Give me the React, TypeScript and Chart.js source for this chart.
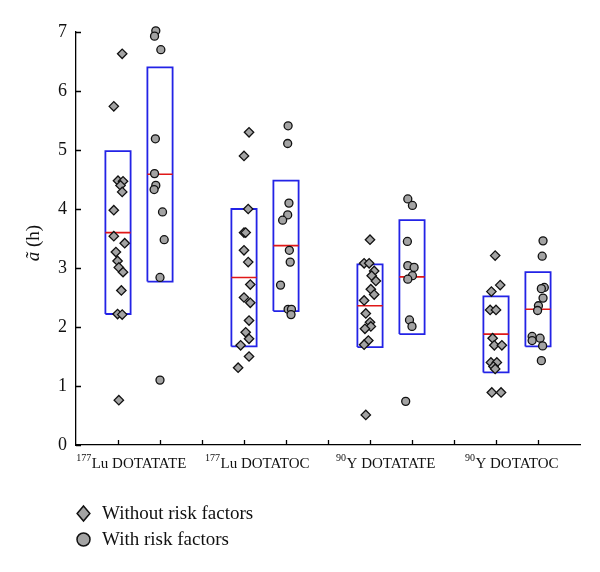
import React, { useEffect, useRef } from 'react';
import { Chart, registerables } from 'chart.js';
Chart.register(...registerables);

const categories = ['Lu DOTATATE', 'Lu DOTATOC', 'Y DOTATATE', 'Y DOTATOC'];
const isotopes = ['177', '177', '90', '90'];
const seriesNames = ['Without risk factors', 'With risk factors'];
const yTicks = [0, 1, 2, 3, 4, 5, 6, 7];

const withoutValues = [
  [6.63, 5.74, 4.48, 4.47, 4.40, 4.29, 3.98, 3.54, 3.42, 3.27, 3.12, 3.01, 2.93, 2.62, 2.22, 2.21, 0.76],
  [5.30, 4.90, 4.00, 3.60, 3.60, 3.30, 3.10, 2.72, 2.50, 2.41, 2.11, 1.91, 1.80, 1.69, 1.50, 1.31],
  [3.48, 3.08, 3.08, 2.95, 2.87, 2.78, 2.64, 2.55, 2.45, 2.23, 2.08, 2.01, 1.97, 1.77, 1.70, 0.51],
  [3.21, 2.71, 2.60, 2.29, 2.29, 1.81, 1.69, 1.69, 1.40, 1.40, 1.33, 1.29, 0.89, 0.89],
];
const withoutJitter = [
  [0.10, -0.10, 0, 0.12, 0.06, 0.10, -0.10, -0.10, 0.16, -0.05, -0.01, 0.02, 0.12, 0.08, -0.01, 0.10, 0.02],
  [0.12, 0, 0.10, 0, 0.04, 0, 0.10, 0.15, 0, 0.15, 0.12, 0.04, 0.12, -0.08, 0.12, -0.14],
  [0, -0.14, -0.02, 0.10, 0.04, 0.14, 0.02, 0.10, -0.14, -0.10, 0, 0.02, -0.12, -0.04, -0.14, -0.10],
  [-0.02, 0.10, -0.11, -0.14, 0, -0.08, -0.04, 0.14, -0.12, 0.02, -0.06, -0.02, -0.10, 0.12],
];
const withValues = [
  [7.02, 6.93, 6.70, 5.19, 4.60, 4.40, 4.33, 3.95, 3.48, 2.84, 1.10],
  [5.41, 5.11, 4.10, 3.90, 3.81, 3.30, 3.10, 2.71, 2.30, 2.30, 2.21],
  [4.17, 4.06, 3.45, 3.04, 3.01, 2.87, 2.81, 2.12, 2.01, 0.74],
  [3.46, 3.20, 2.67, 2.65, 2.49, 2.36, 2.28, 1.84, 1.81, 1.77, 1.68, 1.43],
];
const withJitter = [
  [-0.10, -0.13, 0.02, -0.11, -0.13, -0.10, -0.14, 0.06, 0.10, 0, 0],
  [0.05, 0.04, 0.07, 0.04, -0.08, 0.08, 0.10, -0.13, 0.05, 0.13, 0.12],
  [-0.10, 0.01, -0.11, -0.10, 0.05, 0.01, -0.10, -0.06, 0, -0.15],
  [0.12, 0.10, 0.15, 0.08, 0.12, 0.01, -0.01, -0.14, 0.05, -0.14, 0.11, 0.08],
];
const withoutMean = [3.60, 2.84, 2.36, 1.88];
const withoutLow = [2.22, 1.67, 1.66, 1.23];
const withoutHigh = [4.98, 4.00, 3.06, 2.52];
const withMean = [4.59, 3.38, 2.85, 2.30];
const withLow = [2.77, 2.27, 1.88, 1.67];
const withHigh = [6.40, 4.48, 3.81, 2.93];

const FONT = "'Liberation Serif', 'DejaVu Serif', serif";
const HALF = 0.3;
const posWithout = (i: number) => 3 * i + 1;
const posWith = (i: number) => 3 * i + 2;

function scatterPoints(values: number[][], jitter: number[][], pos: (i: number) => number) {
  const out: { x: number; y: number }[] = [];
  values.forEach((arr, i) => arr.forEach((v, j) => out.push({ x: pos(i) + jitter[i][j], y: v })));
  return out;
}

function boxOutlines() {
  const out: { x: number; y: number | null }[] = [];
  const add = (p: number, lo: number, hi: number) => {
    out.push({ x: p - HALF, y: lo }, { x: p + HALF, y: lo }, { x: p + HALF, y: hi }, { x: p - HALF, y: hi }, { x: p - HALF, y: lo }, { x: p, y: null });
  };
  categories.forEach((_, i) => {
    add(posWithout(i), withoutLow[i], withoutHigh[i]);
    add(posWith(i), withLow[i], withHigh[i]);
  });
  return out;
}

function medianLines() {
  const out: { x: number; y: number | null }[] = [];
  categories.forEach((_, i) => {
    out.push({ x: posWithout(i) - HALF, y: withoutMean[i] }, { x: posWithout(i) + HALF, y: withoutMean[i] }, { x: posWithout(i), y: null });
    out.push({ x: posWith(i) - HALF, y: withMean[i] }, { x: posWith(i) + HALF, y: withMean[i] }, { x: posWith(i), y: null });
  });
  return out;
}

const decorPlugin = {
  id: 'decor',
  afterDraw(chart: any) {
    const { ctx, chartArea, scales } = chart;
    const xs = scales.x, ys = scales.y;
    ctx.save();
    ctx.strokeStyle = '#000';
    ctx.lineWidth = 1.3;
    ctx.beginPath();
    yTicks.forEach((t) => {
      const y = Math.round(ys.getPixelForValue(t)) + 0.5;
      ctx.moveTo(chartArea.left, y);
      ctx.lineTo(chartArea.left + 5, y);
    });
    for (let k = 1; k <= 11; k++) {
      const x = Math.round(xs.getPixelForValue(k)) + 0.5;
      ctx.moveTo(x, chartArea.bottom);
      ctx.lineTo(x, chartArea.bottom - 5);
    }
    ctx.stroke();
    ctx.fillStyle = '#111';
    ctx.textBaseline = 'alphabetic';
    categories.forEach((c, i) => {
      const cx = xs.getPixelForValue(3 * i + 1.5);
      ctx.font = `15px ${FONT}`;
      const w = ctx.measureText(c).width;
      ctx.textAlign = 'left';
      ctx.fillText(c, cx - w / 2, 468);
      ctx.font = `10px ${FONT}`;
      ctx.textAlign = 'right';
      ctx.fillText(isotopes[i], cx - w / 2 - 0.5, 461);
    });
    ctx.save();
    ctx.translate(39, 243);
    ctx.rotate(-Math.PI / 2);
    ctx.font = `italic 19px ${FONT}`;
    const a = 'ã';
    const wa = ctx.measureText(a).width;
    ctx.font = `19px ${FONT}`;
    const h = ' (h)';
    const wh = ctx.measureText(h).width;
    const start = -(wa + wh) / 2;
    ctx.textAlign = 'left';
    ctx.font = `italic 19px ${FONT}`;
    ctx.fillText(a, start, 0);
    ctx.font = `19px ${FONT}`;
    ctx.fillText(h, start + wa, 0);
    ctx.restore();
    const marker = (style: string, x: number, y: number, r: number) => {
      ctx.beginPath();
      ctx.fillStyle = '#a3a3a3';
      ctx.strokeStyle = '#111';
      ctx.lineWidth = 1.5;
      if (style === 'diamond') {
        ctx.moveTo(x, y - r);
        ctx.lineTo(x + r * 0.85, y);
        ctx.lineTo(x, y + r);
        ctx.lineTo(x - r * 0.85, y);
        ctx.closePath();
      } else {
        ctx.arc(x, y, r, 0, Math.PI * 2);
      }
      ctx.fill();
      ctx.stroke();
    };
    marker('diamond', 83.5, 513.5, 7.5);
    marker('circle', 83.5, 539.5, 6.5);
    ctx.fillStyle = '#111';
    ctx.font = `19px ${FONT}`;
    ctx.textAlign = 'left';
    ctx.fillText(seriesNames[0], 102, 519);
    ctx.fillText(seriesNames[1], 102, 545);
    ctx.restore();
  },
};

export default function App() {
  const ref = useRef<HTMLCanvasElement>(null);
  useEffect(() => {
    if (!ref.current) return;
    const chart = new Chart(ref.current, {
      type: 'scatter',
      data: {
        datasets: [
          {
            label: seriesNames[0],
            data: scatterPoints(withoutValues, withoutJitter, posWithout),
            pointStyle: 'rectRot',
            pointRadius: 4.7,
            backgroundColor: '#a3a3a3',
            borderColor: '#111',
            borderWidth: 1.3,
            clip: false as any,
          },
          {
            label: seriesNames[1],
            data: scatterPoints(withValues, withJitter, posWith),
            pointStyle: 'circle',
            pointRadius: 4,
            backgroundColor: '#a3a3a3',
            borderColor: '#111',
            borderWidth: 1.3,
            clip: false as any,
          },
          {
            label: 'mean',
            data: medianLines() as any,
            showLine: true,
            pointRadius: 0,
            borderColor: '#e01818',
            borderWidth: 1.6,
            spanGaps: false,
          },
          {
            label: 'sd',
            data: boxOutlines() as any,
            showLine: true,
            pointRadius: 0,
            borderColor: '#2323e6',
            borderWidth: 1.8,
            borderJoinStyle: 'miter',
            spanGaps: false,
          },
        ],
      },
      options: {
        responsive: false,
        animation: false,
        layout: { padding: { left: 0, top: 32, right: 20, bottom: 97 } },
        plugins: { legend: { display: false }, tooltip: { enabled: false } },
        scales: {
          x: {
            type: 'linear',
            min: 0,
            max: 12,
            ticks: { display: false },
            grid: { display: false, drawTicks: false },
            border: { display: true, color: '#000', width: 1.3 },
            afterFit: (s: any) => { s.height = 30; },
          },
          y: {
            type: 'linear',
            min: 0,
            max: 7,
            ticks: { stepSize: 1, color: '#111', font: { family: FONT, size: 18 }, padding: 9 },
            grid: { display: false, drawTicks: false },
            border: { display: true, color: '#000', width: 1.3 },
            afterFit: (s: any) => { s.width = 76; },
          },
        },
      },
      plugins: [decorPlugin],
    });
    return () => chart.destroy();
  }, []);
  return (
    <div style={{ position: 'absolute', left: 0, top: 0, width: 600, height: 572, background: '#fff' }}>
      <canvas ref={ref} width={600} height={572} style={{ display: 'block' }} />
    </div>
  );
}
